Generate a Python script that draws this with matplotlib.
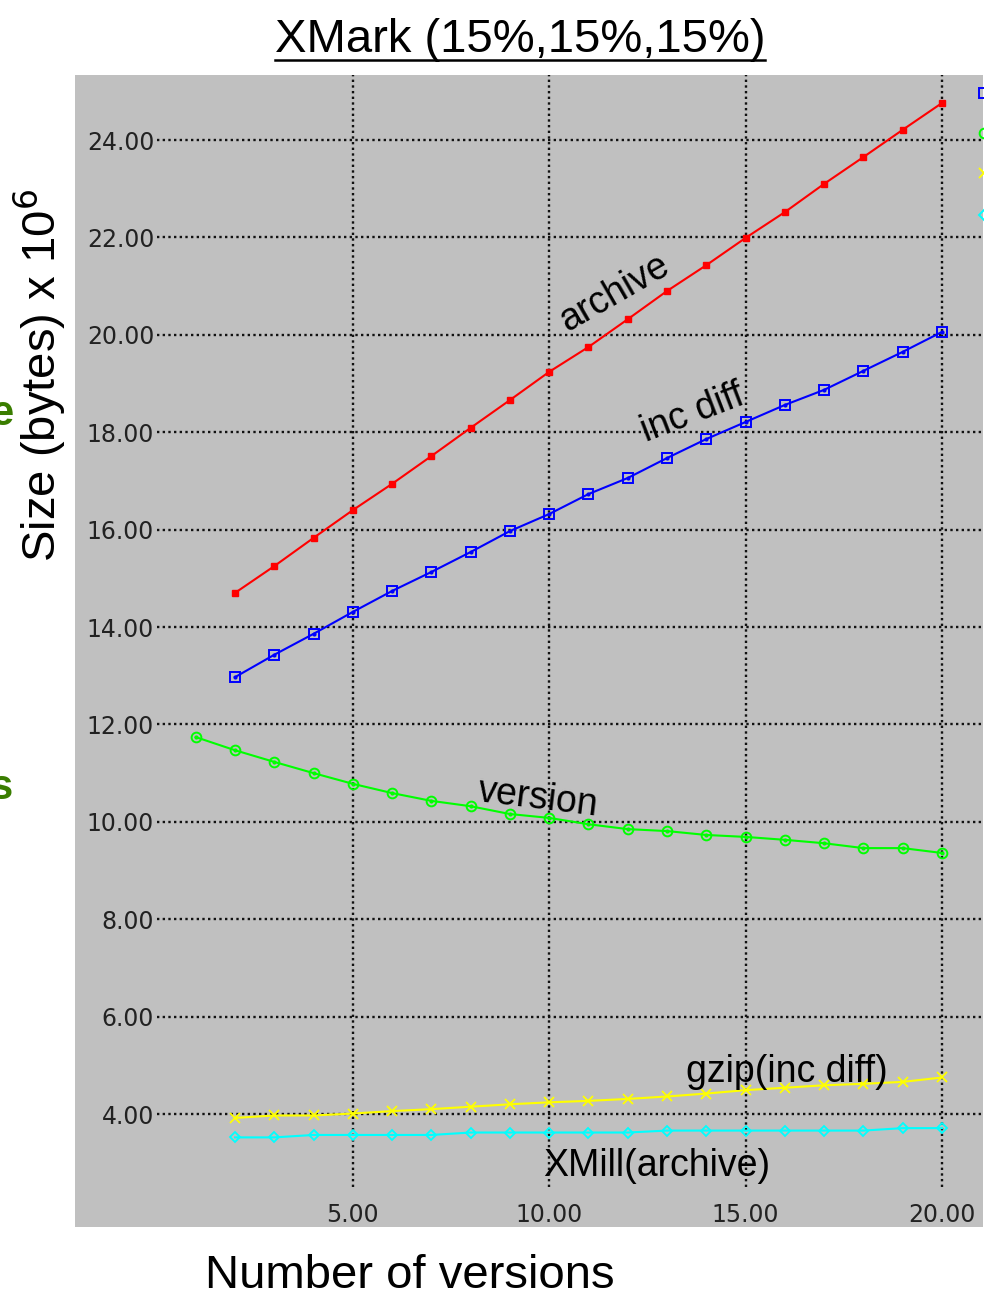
import numpy as np
import matplotlib.pyplot as plt
from matplotlib.lines import Line2D

# Number of versions
versions = list(range(1, 21))

# Sizes in bytes x 10^6
archive = [None, 14.70, 15.25, 15.83, 16.40, 16.94, 17.51, 18.09, 18.66, 19.24,
           19.75, 20.32, 20.90, 21.43, 21.99, 22.52, 23.10, 23.65, 24.21, 24.76]
inc_diff = [None, 12.97, 13.43, 13.86, 14.31, 14.74, 15.13, 15.54, 15.97, 16.32,
            16.73, 17.06, 17.47, 17.86, 18.21, 18.56, 18.87, 19.26, 19.65, 20.06]
version = [11.74, 11.47, 11.23, 11.00, 10.78, 10.59, 10.43, 10.32, 10.16, 10.08,
           9.95, 9.85, 9.81, 9.73, 9.69, 9.63, 9.56, 9.46, 9.46, 9.36]
gzip_inc_diff = [None, 3.92, 3.97, 3.97, 4.01, 4.06, 4.10, 4.15, 4.20, 4.24,
                 4.27, 4.31, 4.36, 4.42, 4.49, 4.54, 4.59, 4.62, 4.66, 4.75]
xmill_archive = [None, 3.52, 3.52, 3.57, 3.57, 3.57, 3.57, 3.62, 3.62, 3.62,
                 3.62, 3.62, 3.66, 3.66, 3.66, 3.66, 3.66, 3.66, 3.71, 3.71]

x_ticks = [5, 10, 15, 20]
y_ticks = [4, 6, 8, 10, 12, 14, 16, 18, 20, 22, 24]

label_font = 'Liberation Sans'
bg = '#c0c0c0'


def arr(vals):
    return np.array([np.nan if v is None else v for v in vals], dtype=float)


fig = plt.figure(figsize=(9.91, 12.97), dpi=100)
ax = fig.add_axes([75 / 991, 70 / 1297, 908 / 991, 1152 / 1297])
ax.set_facecolor(bg)
for s in ax.spines.values():
    s.set_visible(False)

x = np.array(versions)

# archive: small filled squares
ax.plot(x, arr(archive), color='#ff0000', lw=1.5, marker='s', ms=5,
        mfc='#ff0000', mec='#ff0000', zorder=4)
# inc diff: open squares with a dot
ax.plot(x, arr(inc_diff), color='#0000ff', lw=1.5, marker='s', ms=7.5,
        mfc='none', mec='#0000ff', mew=1.4, zorder=4)
ax.plot(x, arr(inc_diff), ls='none', marker='o', ms=2, color='#0000ff', zorder=4)
# version: open circles with a dot
ax.plot(x, arr(version), color='#00ff00', lw=1.5, marker='o', ms=7,
        mfc='none', mec='#00ff00', mew=1.4, zorder=4)
ax.plot(x, arr(version), ls='none', marker='o', ms=2, color='#00ff00', zorder=4)
# gzip(inc diff): crosses
ax.plot(x, arr(gzip_inc_diff), color='#ffff00', lw=1.5, marker='x', ms=7,
        mew=1.3, zorder=4)
# XMill(archive): open diamonds
ax.plot(x, arr(xmill_archive), color='#00ffff', lw=1.5, marker='D', ms=5.5,
        mfc='none', mec='#00ffff', mew=1.3, zorder=4)

ax.set_xlim(-2.073, 21.044)
ax.set_ylim(1.68, 25.335)

# dotted grid, kept clear of the tick labels
for yv in y_ticks:
    ax.axhline(yv, xmin=0.0903, xmax=1, color='#111111', lw=1.7,
               ls=(0, (1, 1.4)), zorder=2)
for xv in x_ticks:
    ax.axvline(xv, ymin=0.0347, ymax=1, color='#111111', lw=1.7,
               ls=(0, (1, 1.4)), zorder=2)

ax.set_xticks(x_ticks)
ax.set_xticklabels([f'{v:.2f}' for v in x_ticks])
ax.set_yticks(y_ticks)
ax.set_yticklabels([f'{v:.2f}' for v in y_ticks])
ax.tick_params(axis='both', length=0, labelsize=17, labelcolor='#222222')
ax.tick_params(axis='y', pad=-57)
ax.tick_params(axis='x', pad=-17)

# curve names
txt = dict(fontsize=27, family=label_font, color='black', ha='center',
           va='center', rotation_mode='anchor', zorder=5)
ax.text(11.67, 20.86, 'archive', rotation=30, **txt)
ax.text(13.66, 18.39, 'inc diff', rotation=21, **txt)
ax.text(9.71, 10.49, 'version', rotation=-7, **txt)
ax.text(16.05, 4.86, 'gzip(inc diff)', **txt)
ax.text(12.74, 2.93, 'XMill(archive)', **txt)

# legend markers cut by the right edge
leg_y = [0.984, 0.9497, 0.915, 0.8785]
leg_style = [('s', '#0000ff', 7.5), ('o', '#00ff00', 7), ('x', '#ffff00', 7),
             ('D', '#00ffff', 5.5)]
for yy, (m, c, sz) in zip(leg_y, leg_style):
    if m == 'x':
        ax.plot([1.001], [yy], marker=m, color=c, ms=sz, mew=1.3,
                transform=ax.transAxes, clip_on=True, zorder=6)
    else:
        ax.plot([1.001], [yy], marker=m, mfc='none', mec=c, ms=sz, mew=1.4,
                transform=ax.transAxes, clip_on=True, zorder=6)

title = fig.text(520 / 991, 1 - 40 / 1297, 'XMark (15%,15%,15%)', fontsize=34,
                 family=label_font, ha='center', va='center')
fig.text(40 / 991, 1 - 375 / 1297, 'Size (bytes) x 10$^6$', fontsize=34,
         family=label_font, rotation=90, ha='center', va='center')
fig.text(410 / 991, 1 - 1276 / 1297, 'Number of versions', fontsize=34,
         family=label_font, ha='center', va='center')

# bits of the neighbouring panel's label
fig.text(13 / 991, 1 - 414 / 1297, 'e', fontsize=30, family=label_font,
         weight='bold', color='#3a7d00', ha='right', va='center')
fig.text(13 / 991, 1 - 788 / 1297, 's', fontsize=30, family=label_font,
         weight='bold', color='#3a7d00', ha='right', va='center')

# underline the title
fig.canvas.draw()
bb = title.get_window_extent()
uy = fig.bbox.height - 60
fig.add_artist(Line2D([bb.x0, bb.x1], [uy, uy], color='black', lw=1.8,
                      transform=None))

fig.savefig('out.png', dpi=100, facecolor='white')
